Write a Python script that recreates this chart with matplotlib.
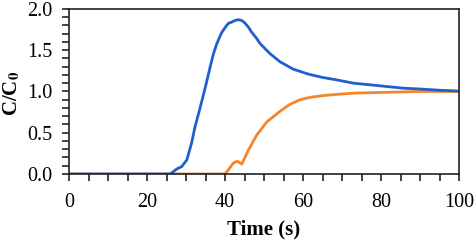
import matplotlib
matplotlib.use('Agg')
import matplotlib.pyplot as plt
from matplotlib.ticker import MultipleLocator, FormatStrFormatter

plt.rcParams['font.family'] = 'Liberation Serif'
plt.rcParams['mathtext.fontset'] = 'stix'

# Data (time in s, C/C0)
t_blue = [0, 25.9, 26.8, 27.6, 28.9, 30.2, 31.4, 32.3, 33.6, 35.0, 36.2, 37.0, 37.9,
          39.1, 40.4, 41.0, 41.7, 42.5, 43.4, 44.3, 45.1, 46.0, 46.8, 48.0, 49.0, 51.5, 54.1,
          57.5, 61.4, 65.0, 68.7, 73.0, 77.3, 81.5, 85.8, 90.0, 95.0, 100.0]
c_blue = [0, 0, 0.03, 0.06, 0.09, 0.17, 0.37, 0.57, 0.80, 1.06, 1.30, 1.45, 1.58,
          1.71, 1.80, 1.83, 1.84, 1.86, 1.87, 1.86, 1.83, 1.78, 1.72, 1.65, 1.58, 1.46, 1.36,
          1.27, 1.21, 1.17, 1.14, 1.10, 1.08, 1.06, 1.04, 1.03, 1.015, 1.005]

t_orange = [0, 40.0, 41.0, 42.1, 42.8, 43.4, 44.3, 45.0, 46.0, 48.1, 50.7, 54.1, 56.5,
            59.2, 62.0, 65.0, 68.7, 73.0, 77.3, 81.5, 85.8, 90.0, 100.0]
c_orange = [0, 0, 0.06, 0.13, 0.15, 0.15, 0.12, 0.19, 0.29, 0.47, 0.63, 0.76, 0.84,
            0.90, 0.93, 0.95, 0.965, 0.98, 0.985, 0.99, 0.995, 1.0, 1.0]

fig = plt.figure(figsize=(4.77, 2.42), dpi=100)
ax = fig.add_axes([0.1447, 0.281, 0.8176, 0.682])

ax.plot(t_orange, c_orange, color='#f5842a', lw=2.0)
ax.plot(t_blue, c_blue, color='#1f5fcf', lw=2.0)

ax.set_xlim(0, 100)
ax.set_ylim(0, 2.0)
ax.xaxis.set_major_locator(MultipleLocator(20))
ax.xaxis.set_minor_locator(MultipleLocator(5))
ax.yaxis.set_major_locator(MultipleLocator(0.5))
ax.yaxis.set_minor_locator(MultipleLocator(0.1))
ax.yaxis.set_major_formatter(FormatStrFormatter('%.1f'))
ax.tick_params(which='both', direction='out', labelsize=14.5, width=1.2, color='#222222')
ax.tick_params(which='major', length=5)
ax.tick_params(which='minor', length=5)
ax.tick_params(axis='x', pad=9)
ax.tick_params(axis='y', pad=7)
for s in ax.spines.values():
    s.set_linewidth(1.2)
    s.set_color('#222222')

ax.set_xlabel('Time (s)', fontsize=15, fontweight='bold', labelpad=5)
ax.set_ylabel(r'C/C$_\mathbf{0}$', fontsize=15, fontweight='bold', va='center')
ax.yaxis.set_label_coords(-0.147, 0.49)

fig.savefig('out.png', dpi=100)
